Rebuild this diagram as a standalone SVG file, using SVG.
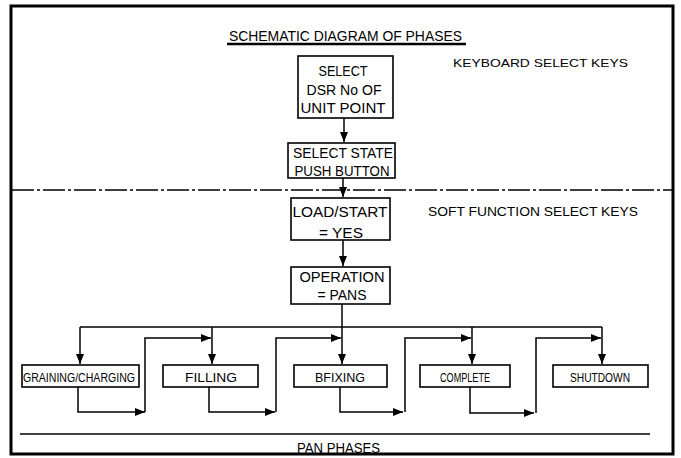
<svg xmlns="http://www.w3.org/2000/svg" width="681" height="458" viewBox="0 0 681 458">
<defs>
<marker id="ah" viewBox="0 0 10 8" refX="10" refY="4" markerWidth="10" markerHeight="8" markerUnits="userSpaceOnUse" orient="auto">
<path d="M0,0 L10,4 L0,8 Z" fill="#000"/>
</marker>
<style>
text{font-family:"Liberation Sans",Arial,sans-serif;fill:#000;}
.b{font-size:14px;text-anchor:middle;}
.p{font-size:12.5px;text-anchor:middle;}
.box{fill:#fff;stroke:#000;stroke-width:1.6;}
.c{fill:none;stroke:#000;stroke-width:1.5;}
</style>
</defs>
<rect width="681" height="458" fill="#fff"/>
<g id="frame">
<rect x="11" y="6" width="662" height="448" fill="none" stroke="#000" stroke-width="3"/>
<line x1="12" y1="190" x2="672" y2="190" stroke="#000" stroke-width="1.3" stroke-dasharray="22,3,3,3"/>
<line x1="20" y1="434" x2="650" y2="434" stroke="#000" stroke-width="1.5"/>
</g>
<g id="title">
<text x="229" y="41" font-size="15" textLength="233" lengthAdjust="spacingAndGlyphs">SCHEMATIC DIAGRAM OF PHASES</text>
<line x1="227" y1="44" x2="466" y2="44" stroke="#000" stroke-width="2.5"/>
</g>
<g id="labels">
<text x="453" y="67" font-size="11" textLength="175" lengthAdjust="spacingAndGlyphs">KEYBOARD SELECT KEYS</text>
<text x="428" y="216" font-size="13" textLength="210" lengthAdjust="spacingAndGlyphs">SOFT FUNCTION SELECT KEYS</text>
<text x="297" y="453" font-size="14" textLength="83" lengthAdjust="spacingAndGlyphs">PAN PHASES</text>
</g>
<g id="connectors">
<line class="c" x1="344" y1="118" x2="344" y2="142" marker-end="url(#ah)"/>
<line class="c" x1="343" y1="178" x2="343" y2="197" marker-end="url(#ah)"/>
<line class="c" x1="343" y1="240" x2="343" y2="266" marker-end="url(#ah)"/>
<line class="c" x1="342" y1="304" x2="342" y2="364" marker-end="url(#ah)"/>
<line class="c" x1="80" y1="327" x2="602" y2="327"/>
<line class="c" x1="80" y1="327" x2="80" y2="364" marker-end="url(#ah)"/>
<line class="c" x1="212" y1="327" x2="212" y2="364" marker-end="url(#ah)"/>
<line class="c" x1="472" y1="327" x2="472" y2="364" marker-end="url(#ah)"/>
<line class="c" x1="602" y1="327" x2="602" y2="364" marker-end="url(#ah)"/>
<polyline class="c" points="78,387 78,412 145,412" marker-end="url(#ah)"/>
<polyline class="c" points="145,412 145,338 211,338" marker-end="url(#ah)"/>
<polyline class="c" points="209,387 209,412 275,412" marker-end="url(#ah)"/>
<polyline class="c" points="276,412 276,338 341,338" marker-end="url(#ah)"/>
<polyline class="c" points="340,387 340,412 403,412" marker-end="url(#ah)"/>
<polyline class="c" points="405,412 405,338 471,338" marker-end="url(#ah)"/>
<polyline class="c" points="470,387 470,413 534,413" marker-end="url(#ah)"/>
<polyline class="c" points="536,413 536,338 601,338" marker-end="url(#ah)"/>
</g>
<g id="select-dsr">
<rect class="box" x="298" y="56" width="95" height="62"/>
<text class="b" x="343" y="76" textLength="49" lengthAdjust="spacingAndGlyphs">SELECT</text>
<text class="b" x="344" y="95" textLength="75" lengthAdjust="spacingAndGlyphs">DSR No OF</text>
<text class="b" x="343" y="113" textLength="85" lengthAdjust="spacingAndGlyphs">UNIT POINT</text>
</g>
<g id="select-state">
<rect class="box" x="288" y="143" width="107" height="35"/>
<text class="b" x="343" y="158" textLength="100" lengthAdjust="spacingAndGlyphs">SELECT STATE</text>
<text class="b" x="342" y="176" textLength="95" lengthAdjust="spacingAndGlyphs">PUSH BUTTON</text>
</g>
<g id="load-start">
<rect class="box" x="291" y="198" width="99" height="42"/>
<text class="b" x="340" y="217" textLength="95" lengthAdjust="spacingAndGlyphs">LOAD/START</text>
<text class="b" x="341" y="238" textLength="44" lengthAdjust="spacingAndGlyphs">= YES</text>
</g>
<g id="operation">
<rect class="box" x="291" y="267" width="99" height="37"/>
<text class="b" x="342" y="282" textLength="85" lengthAdjust="spacingAndGlyphs">OPERATION</text>
<text class="b" x="342" y="300" textLength="49" lengthAdjust="spacingAndGlyphs">= PANS</text>
</g>
<g id="graining">
<rect class="box" x="22" y="365" width="117" height="22"/>
<text class="p" x="79" y="382" textLength="112" lengthAdjust="spacingAndGlyphs">GRAINING/CHARGING</text>
</g>
<g id="filling">
<rect class="box" x="163" y="365" width="95" height="22"/>
<text class="p" x="211" y="382" textLength="52" lengthAdjust="spacingAndGlyphs">FILLING</text>
</g>
<g id="bfixing">
<rect class="box" x="294" y="365" width="93" height="22"/>
<text class="p" x="340" y="382" textLength="50" lengthAdjust="spacingAndGlyphs">BFIXING</text>
</g>
<g id="complete">
<rect class="box" x="420" y="365" width="90" height="22"/>
<text class="p" x="465" y="382" textLength="50" lengthAdjust="spacingAndGlyphs">COMPLETE</text>
</g>
<g id="shutdown">
<rect class="box" x="553" y="365" width="95" height="22"/>
<text class="p" x="600" y="382" textLength="60" lengthAdjust="spacingAndGlyphs">SHUTDOWN</text>
</g>
</svg>
